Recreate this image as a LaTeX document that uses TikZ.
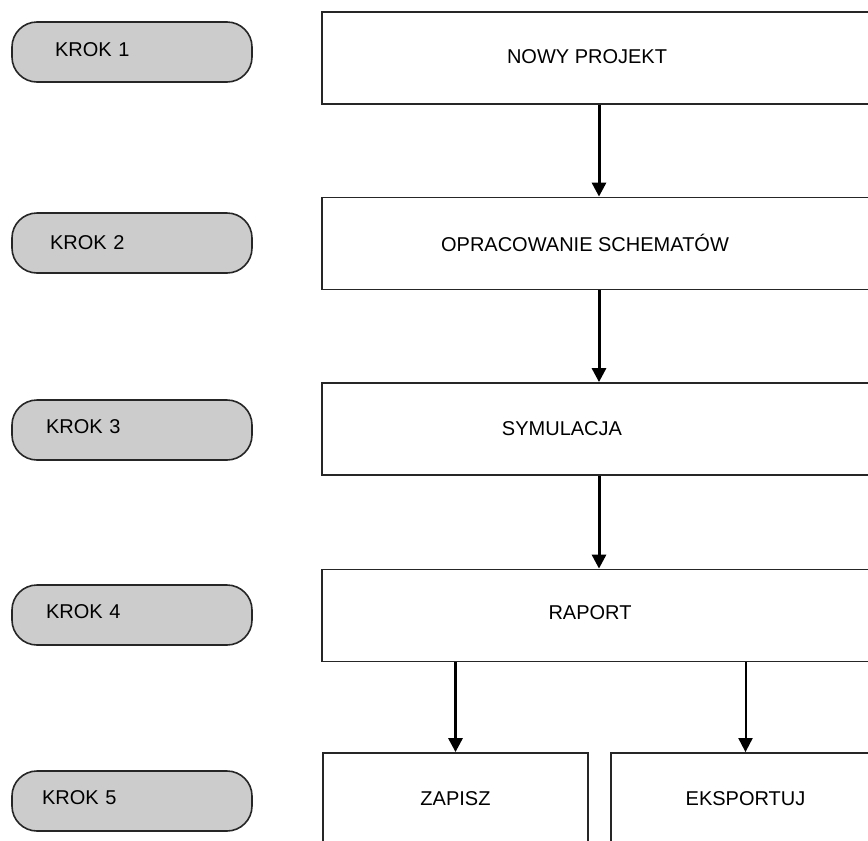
\documentclass[tikz,border=0pt]{standalone}
\usepackage{fontspec}
\setmainfont{Liberation Sans}
\usetikzlibrary{arrows.meta,positioning}
\definecolor{szary}{HTML}{CCCCCC}
\tikzstyle{krok} = [
    draw=black!85,
    fill=szary,
    line width=1.6pt,
    rounded corners=25pt,
    minimum width=240pt,
    minimum height=60pt,
    text width=172pt,
    align=left,
    inner xsep=34pt
]
\tikzstyle{etap} = [
    draw=black!85,
    line width=1.8pt,
    minimum height=92pt
]
\tikzstyle{strzalka} = [
    line width=3pt,
    -{Triangle[width=14pt,length=14pt]},
    draw=black
]

\begin{document}
\begin{tikzpicture}[x=1pt,y=-1pt,font=\fontsize{20}{24}\selectfont]
\useasboundingbox (0,0) rectangle (868,841);
\clip (0,0) rectangle (868,841);

% Kroki (left column)
\node[krok] (k1) at (132,52) {\hspace{9pt}\raisebox{4pt}{KROK 1}};
\node[krok] (k2) at (132,243) {\hspace{4pt}KROK 2};
\node[krok] (k3) at (132,430) {\raisebox{7pt}{KROK 3}};
\node[krok] (k4) at (132,615) {\raisebox{7pt}{KROK 4}};
\node[krok] (k5) at (132,801) {\hspace{-4pt}\raisebox{6pt}{KROK 5}};

% Etapy (boxes, cut by the right edge)
\node[etap, minimum width=558pt] (nowy) at (601,58) {};
\node[etap, minimum width=558pt] (schematy) at (601,243.5) {};
\node[etap, minimum width=558pt] (symulacja) at (601,429) {};
\node[etap, minimum width=558pt] (raport) at (601,615.5) {};
\node[etap, minimum width=265pt] (zapisz) at (455.5,799) {ZAPISZ};
\node[etap, minimum width=269pt] (eksport) at (745.5,799) {EKSPORTUJ};

% Box texts
\node (tnowy) at (587,57) {NOWY PROJEKT};
\node (tschematy) at (585,243) {OPRACOWANIE SCHEMATÓW};
\node (tsymulacja) at (562,429) {SYMULACJA};
\node (traport) at (590,613) {RAPORT};

% Arrows
\draw[strzalka] ([xshift=-2pt]nowy.south) -- ([xshift=-2pt]schematy.north);
\draw[strzalka] ([xshift=-2pt]schematy.south) -- ([xshift=-2pt]symulacja.north);
\draw[strzalka] ([xshift=-2pt]symulacja.south) -- ([xshift=-2pt]raport.north);
\draw[strzalka] (raport.south -| zapisz.north) -- (zapisz.north);
\draw[strzalka, line width=2pt] (raport.south -| eksport.north) -- (eksport.north);
\end{tikzpicture}
\end{document}
